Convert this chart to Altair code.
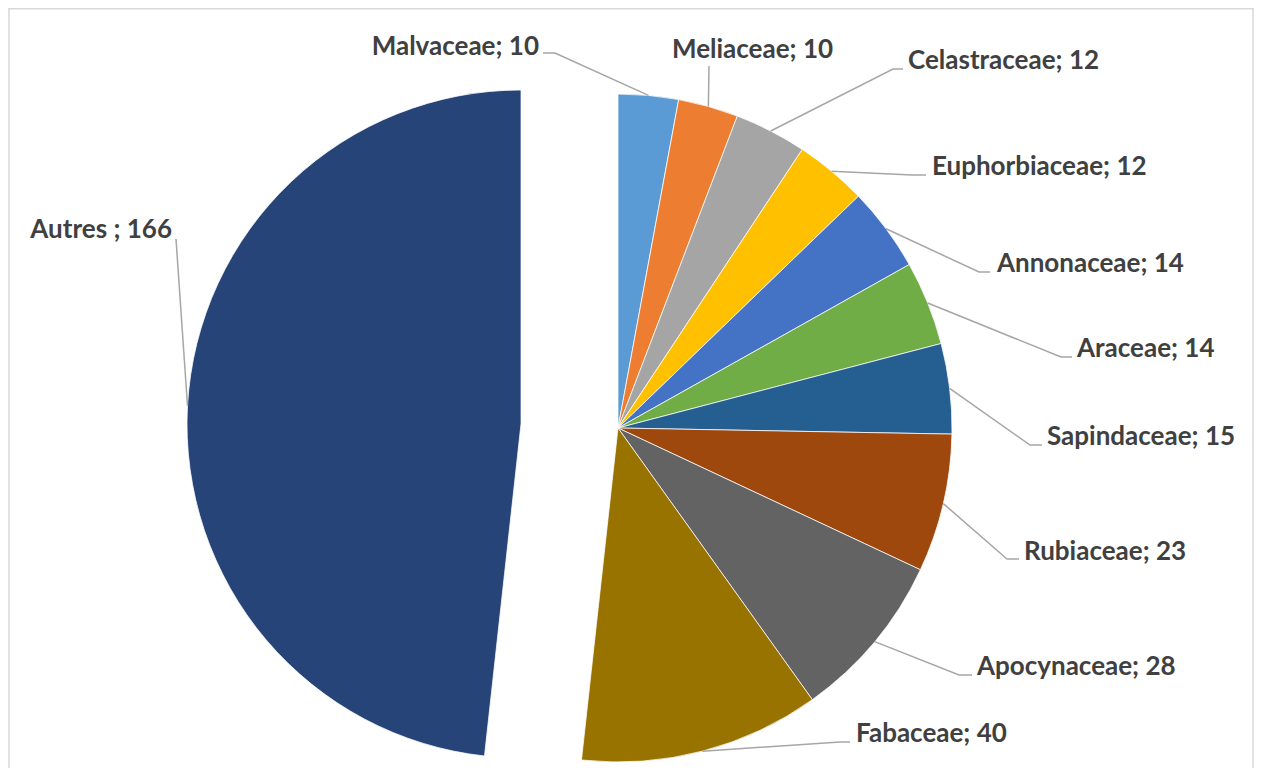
import math
import altair as alt
import pandas as pd

# ---------------- data ----------------
families = ["Malvaceae", "Meliaceae", "Celastraceae", "Euphorbiaceae", "Annonaceae",
            "Araceae", "Sapindaceae", "Rubiaceae", "Apocynaceae", "Fabaceae", "Autres"]
counts = [10, 10, 12, 12, 14, 14, 15, 23, 28, 40, 166]
labels = ["Malvaceae; 10", "Meliaceae; 10", "Celastraceae; 12", "Euphorbiaceae; 12",
          "Annonaceae; 14", "Araceae; 14", "Sapindaceae; 15", "Rubiaceae; 23",
          "Apocynaceae; 28", "Fabaceae; 40", "Autres ; 166"]
colors = ["#5B9BD5", "#ED7D31", "#A5A5A5", "#FFC000", "#4472C4", "#70AD47",
          "#255E91", "#9E480E", "#636363", "#997300", "#264478"]

# ---------------- layout ----------------
W, H = 1246, 760
CX, CY = 610, 420          # pie centre
R = 334                    # pie radius
EXPLODED = "Autres"
EX_DX, EX_DY = -97, -4     # explosion offset of the "Autres" slice

label_x = [531, 664, 900, 924, 989, 1069, 1039, 1016, 969, 848, 164]
label_y = [47, 50, 61, 167, 264, 349, 437, 552, 667, 734, 230]
label_align = ["right", "left", "left", "left", "left", "left", "left", "left",
               "left", "left", "right"]
leader_pts = [
    [(547, 45), (535, 45)],
    [(701, 58)],
    [(885, 61), (895, 61)],
    [(904, 167), (918, 167)],
    [(971, 264), (982, 264)],
    [(1053, 349), (1064, 349)],
    [(1022, 437), (1034, 437)],
    [(999, 551), (1011, 551)],
    [(951, 667), (964, 667)],
    [(832, 734), (842, 734)],
    [(168, 231)],
]

total = sum(counts)
ends, acc = [], 0
for c in counts:
    acc += c
    ends.append(acc)
starts = [e - c for e, c in zip(ends, counts)]

df = pd.DataFrame({"family": families, "label": labels, "count": counts,
                   "start": starts, "end": ends,
                   "lx": label_x, "ly": label_y, "align": label_align})

# leader lines: from slice edge (mid angle) to the label
rows = []
for i, f in enumerate(families):
    cx = CX + (EX_DX if f == EXPLODED else 0)
    cy = CY + (EX_DY if f == EXPLODED else 0)
    mid = (starts[i] + ends[i]) / 2 / total * 2 * math.pi
    pts = [(cx + R * math.sin(mid), cy - R * math.cos(mid))] + leader_pts[i]
    for k, (x, y) in enumerate(pts):
        rows.append({"family": f, "seq": k, "x": x, "y": y})
lines_df = pd.DataFrame(rows)

theta_scale = alt.Scale(domain=[0, total], range=[0, 2 * math.pi])
color_scale = alt.Scale(domain=families, range=colors)


def arcs(sub, cx, cy):
    return alt.Chart(sub).mark_arc(radius=R, stroke="white", strokeWidth=0.75).encode(
        theta=alt.Theta("start:Q", scale=theta_scale),
        theta2="end:Q",
        color=alt.Color("family:N", scale=color_scale, legend=None),
        x=alt.value(cx), y=alt.value(cy),
    )


main = arcs(df[df.family != EXPLODED], CX, CY)
expl = arcs(df[df.family == EXPLODED], CX + EX_DX, CY + EX_DY)

leaders = alt.Chart(lines_df).mark_line(color="#A6A6A6", strokeWidth=1.5).encode(
    x=alt.X("x:Q", scale=None, axis=None),
    y=alt.Y("y:Q", scale=None, axis=None),
    detail="family:N",
    order="seq:Q",
)


def texts(align):
    return alt.Chart(df[df["align"] == align]).mark_text(
        font="Lato", fontWeight="bold", fontSize=26, color="#404040",
        align=align, baseline="alphabetic",
    ).encode(
        x=alt.X("lx:Q", scale=None, axis=None),
        y=alt.Y("ly:Q", scale=None, axis=None),
        text="label:N",
    )


one = pd.DataFrame({"k": [0]})
border_col = "#D9D9D9"
b_left = alt.Chart(one).mark_rule(color=border_col, strokeWidth=1.5).encode(
    x=alt.value(1), y=alt.value(0), y2=alt.value(H))
b_right = alt.Chart(one).mark_rule(color=border_col, strokeWidth=1.5).encode(
    x=alt.value(W - 1), y=alt.value(0), y2=alt.value(H))
b_top = alt.Chart(one).mark_rule(color=border_col, strokeWidth=1.5).encode(
    x=alt.value(0), x2=alt.value(W), y=alt.value(0.75))

chart = alt.layer(
    b_left, b_right, b_top, main, expl, leaders, texts("left"), texts("right")
).properties(
    width=W, height=H, padding=0,
    autosize=alt.AutoSizeParams(type="none"),
    background="white",
).configure_view(strokeWidth=0)

chart.save("out.html", embed_options={"renderer": "svg", "actions": False})
